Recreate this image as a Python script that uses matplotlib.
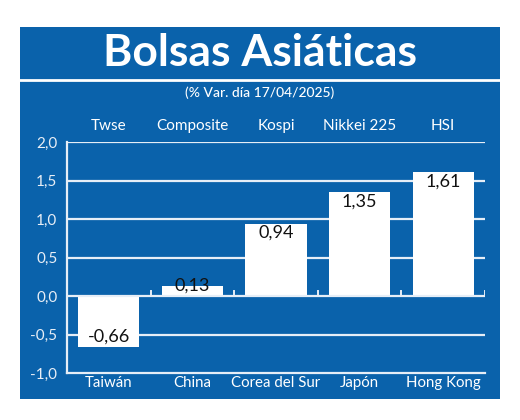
import numpy as np
import matplotlib
matplotlib.use('Agg')
import matplotlib.pyplot as plt
from matplotlib.patches import Rectangle
from matplotlib.lines import Line2D

# data
paises = ['Taiwán', 'China', 'Corea del Sur', 'Japón', 'Hong Kong']
indices = ['Twse', 'Composite', 'Kospi', 'Nikkei 225', 'HSI']
variacion = [-0.66, 0.13, 0.94, 1.35, 1.61]
yticks = [-1.0, -0.5, 0.0, 0.5, 1.0, 1.5, 2.0]

titulo = 'Bolsas Asiáticas'
subtitulo = '(% Var. día 17/04/2025)'

AZUL = '#0a62ab'
W, H = 520, 420

plt.rcParams['font.family'] = ['Lato', 'DejaVu Sans']

fig = plt.figure(figsize=(5.2, 4.2), dpi=100)
fig.patch.set_facecolor('white')

# blue panel
fig.add_artist(Rectangle((20/W, 1-399/H), 480/W, 372/H, transform=fig.transFigure,
                         facecolor=AZUL, edgecolor='none', zorder=0))
fig.add_artist(Line2D([20/W, 500/W], [1-80/H, 1-80/H], transform=fig.transFigure,
                      color='white', lw=2, zorder=1))

fig.text(0.5, 1-53/H, titulo, ha='center', va='center', color='white',
         fontsize=32, fontweight='bold')
fig.text(0.5, 1-93/H, subtitulo, ha='center', va='center', color='white',
         fontsize=10, fontweight='medium')

ax = fig.add_axes([67/W, 1-373/H, (485-67)/W, (373-142)/H])
ax.set_facecolor('none')
x = np.arange(len(paises))

for g in [0.5, 1.0, 1.5, 2.0, -0.5]:
    ax.axhline(g, color='#e6eef7', lw=1.6, zorder=1)
ax.axhline(0, color='#e6eef7', lw=1.6, zorder=3)

ax.bar(x, variacion, width=0.73, color='white', zorder=2)

# value labels
for xi, v in zip(x, variacion):
    if v < 0:
        yl = v + 0.13
    elif v < 0.3:
        yl = v
    else:
        yl = v - 0.12
    ax.text(xi, yl, f'{v:.2f}'.replace('.', ','), ha='center', va='center',
            fontsize=13, color='#111111', zorder=4)

# small ticks on zero line between categories
for b in np.arange(0.5, len(paises), 1.0):
    ax.plot([b, b], [0, 0.07], color='#e6eef7', lw=1.4, zorder=3)

ax.set_xlim(-0.5, len(paises)-0.5)
ax.set_ylim(-1.0, 2.0)
ax.set_yticks(yticks)
ax.set_yticklabels([f'{t:.1f}'.replace('.', ',') for t in yticks])
ax.tick_params(axis='y', length=0, pad=7, labelsize=11, labelcolor='#e8eef6')

ax.set_xticks(x)
ax.set_xticklabels(paises)
ax.tick_params(axis='x', length=0, pad=2, labelsize=10.8, labelcolor='white')

for xi, nom in zip(x, indices):
    ax.text(xi, 2.21, nom, ha='center', va='center', color='white', fontsize=11)

for s in ['top', 'right']:
    ax.spines[s].set_visible(False)
ax.spines['left'].set_color('#e6eef7')
ax.spines['bottom'].set_color('#e6eef7')
ax.spines['left'].set_linewidth(1.6)
ax.spines['bottom'].set_linewidth(1.6)

fig.savefig('out.png', dpi=100)
